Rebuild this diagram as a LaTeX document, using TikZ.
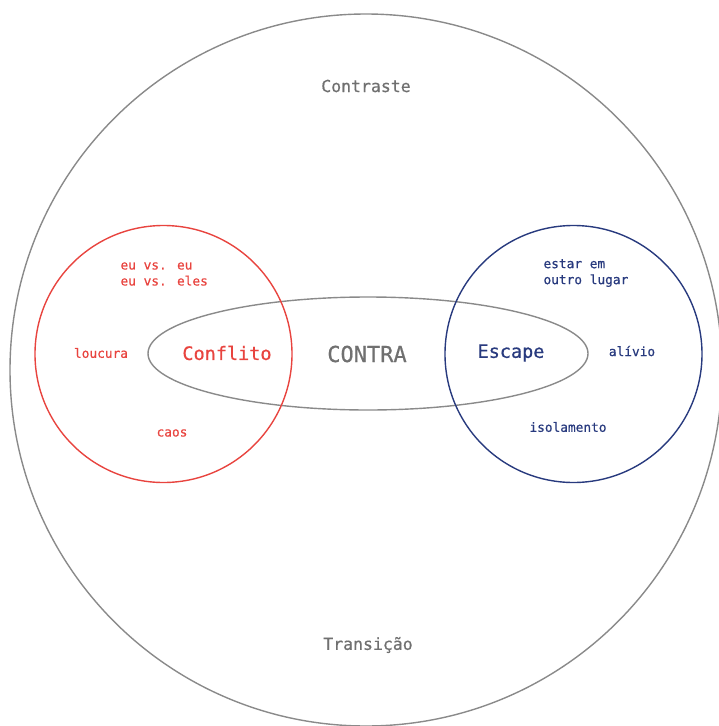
\documentclass[tikz,border=0pt]{standalone}
\usepackage{fontspec}
\setmainfont{DejaVu Sans Mono}[FakeBold=0.6, AutoFakeBold=0.6]
\definecolor{linegray}{HTML}{8A8A8A}
\definecolor{textgray}{HTML}{707070}
\definecolor{conflred}{HTML}{E8443F}
\definecolor{escblue}{HTML}{283A7E}
\tikzset{
  ring/.style={line width=1.4pt},
  small/.style={font=\bfseries\fontsize{12.8}{16}\selectfont},
  big/.style={font=\bfseries\fontsize{18.5}{22}\selectfont},
  title/.style={font=\fontsize{16.5}{20}\selectfont, text=textgray},
}
\begin{document}
\begin{tikzpicture}[x=1pt,y=-1pt]
  \useasboundingbox (0,0) rectangle (719,726);
  % outer circle and the central ellipse
  \draw[ring, linegray] (366,370) circle[radius=356];
  \draw[ring, linegray] (368,353.5) ellipse[x radius=220, y radius=56.5];
  % the two overlapping circles
  \draw[ring, conflred] (163.5,354) circle[radius=128.5];
  \draw[ring, escblue] (573.5,354) circle[radius=128.5];

  % outer labels
  \node[title] (contraste) at (366,86) {Contraste};
  \node[title] (transicao) at (368,645) {Transição};
  \node[font=\fontsize{22}{26}\selectfont, text=textgray] (contra) at (367,354) {CONTRA};

  % Conflito side
  \node[big, text=conflred] (conflito) at (227,353) {Conflito};
  \node[small, text=conflred, align=left, anchor=west] (eu) at (117,274) {eu vs. eu\\eu vs. eles};
  \node[small, text=conflred] (loucura) at (101,353) {loucura};
  \node[small, text=conflred] (caos) at (172,433) {caos};

  % Escape side
  \node[big, text=escblue] (escape) at (511,353) {Escape};
  \node[small, text=escblue, align=left, anchor=west] (estar) at (540,273) {estar em\\outro lugar};
  \node[small, text=escblue] (alivio) at (632,351) {alívio};
  \node[small, text=escblue] (isol) at (568,427) {isolamento};
\end{tikzpicture}
\end{document}
